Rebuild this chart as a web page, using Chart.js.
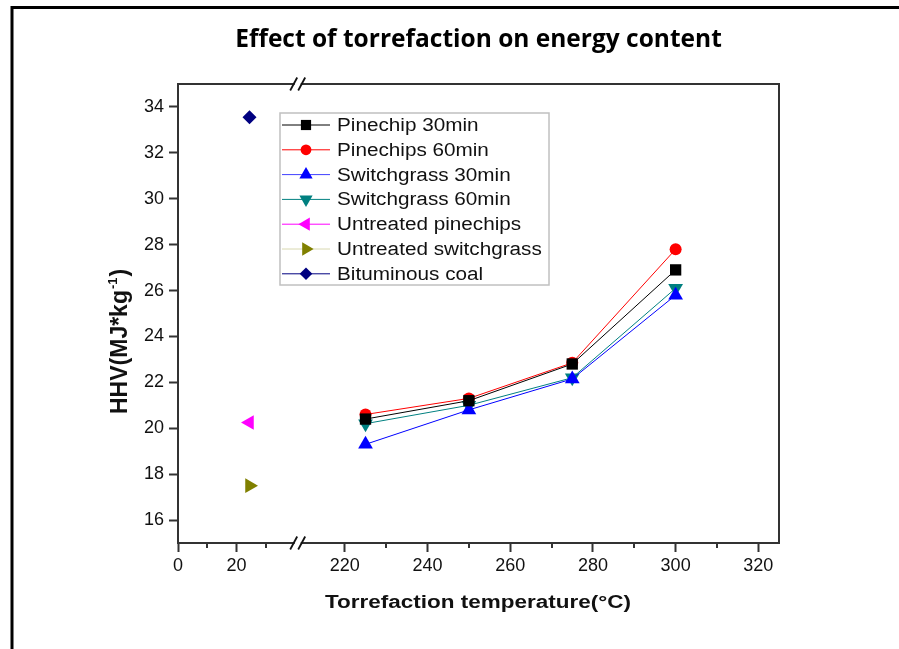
<!DOCTYPE html>
<html>
<head>
<meta charset="utf-8">
<script src="https://cdn.jsdelivr.net/npm/chart.js@4/dist/chart.umd.min.js"></script>
<style>
  html, body { margin: 0; padding: 0; background: #ffffff; }
  #wrap { width: 899px; height: 649px; }
</style>
</head>
<body>
<div id="wrap"><canvas id="c" width="899" height="649"></canvas></div>
<script>
// ---- data ----
const temperatures = [225, 250, 275, 300];
const pinechip30 = [20.4, 21.2, 22.8, 26.9];
const pinechips60 = [20.6, 21.3, 22.85, 27.8];
const switchgrass30 = [19.3, 20.8, 22.15, 25.8];
const switchgrass60 = [20.2, 21.0, 22.2, 26.1];
const untreatedX = [24.5];
const untreatedPinechips = [20.25];
const untreatedSwitchgrass = [17.5];
const bituminousCoal = [33.55];

// ---- tick labels ----
const yTicks = [16, 18, 20, 22, 24, 26, 28, 30, 32, 34];
const xTicksLeft = [0, 20];
const xTicksRight = [220, 240, 260, 280, 300, 320];
const xMinorLeft = [10, 30];
const xMinorRight = [230, 250, 270, 290, 310];

const labels = ['Pinechip 30min', 'Pinechips 60min', 'Switchgrass 30min', 'Switchgrass 60min',
  'Untreated pinechips', 'Untreated switchgrass', 'Bituminous coal'];

function pts(xs, ys) { return ys.map((y, i) => ({ x: xs[i], y: y })); }

const datasets = [
  { label: labels[0], data: pts(temperatures, pinechip30), xAxisID: 'xR', borderColor: '#000000', backgroundColor: '#000000', pointStyle: 'rect', pointRadius: 8, rotation: 0, legendLine: '#000000' },
  { label: labels[1], data: pts(temperatures, pinechips60), xAxisID: 'xR', borderColor: '#ff0000', backgroundColor: '#ff0000', pointStyle: 'circle', pointRadius: 6, rotation: 0, legendLine: '#ff0000' },
  { label: labels[2], data: pts(temperatures, switchgrass30), xAxisID: 'xR', borderColor: '#0000ff', backgroundColor: '#0000ff', pointStyle: 'triangle', pointRadius: 8.5, rotation: 0, legendLine: '#4040ff' },
  { label: labels[3], data: pts(temperatures, switchgrass60), xAxisID: 'xR', borderColor: '#008080', backgroundColor: '#008080', pointStyle: 'triangle', pointRadius: 8.5, rotation: 180, legendLine: '#008080' },
  { label: labels[4], data: pts(untreatedX, untreatedPinechips), xAxisID: 'xL', borderColor: '#ff00ff', backgroundColor: '#ff00ff', pointStyle: 'triangle', pointRadius: 8.5, rotation: -90, legendLine: '#ff00ff', showLine: false },
  { label: labels[5], data: pts(untreatedX, untreatedSwitchgrass), xAxisID: 'xL', borderColor: '#808000', backgroundColor: '#808000', pointStyle: 'triangle', pointRadius: 8.5, rotation: 90, legendLine: '#d8d8b0', showLine: false },
  { label: labels[6], data: pts(untreatedX, bituminousCoal), xAxisID: 'xL', borderColor: '#000080', backgroundColor: '#000080', pointStyle: 'rectRot', pointRadius: 7, rotation: 0, legendLine: '#000080', showLine: false }
].map(d => Object.assign({
  borderWidth: 1,
  pointBorderWidth: 0,
  pointRotation: d.rotation,
  pointHoverRadius: d.pointRadius,
  showLine: d.showLine !== false,
  clip: false
}, d));

function drawMarker(ctx, style, x, y, r, rotDeg, color) {
  ctx.save();
  ctx.fillStyle = color;
  ctx.beginPath();
  if (style === 'circle') {
    ctx.arc(x, y, r, 0, Math.PI * 2);
  } else if (style === 'rect') {
    const s = Math.SQRT1_2 * r;
    ctx.rect(x - s, y - s, 2 * s, 2 * s);
  } else if (style === 'rectRot') {
    ctx.moveTo(x, y - r); ctx.lineTo(x + r, y); ctx.lineTo(x, y + r); ctx.lineTo(x - r, y); ctx.closePath();
  } else if (style === 'triangle') {
    let rad = rotDeg * Math.PI / 180;
    ctx.moveTo(x + Math.sin(rad) * r, y - Math.cos(rad) * r);
    rad += 2 * Math.PI / 3;
    ctx.lineTo(x + Math.sin(rad) * r, y - Math.cos(rad) * r);
    rad += 2 * Math.PI / 3;
    ctx.lineTo(x + Math.sin(rad) * r, y - Math.cos(rad) * r);
    ctx.closePath();
  }
  ctx.fill();
  ctx.restore();
}

const decor = {
  id: 'decor',
  afterDraw(chart) {
    const ctx = chart.ctx;
    const a = chart.chartArea;
    const xL = chart.scales.xL, xR = chart.scales.xR;
    ctx.save();
    // outer page border
    ctx.strokeStyle = '#000000';
    ctx.lineWidth = 3;
    ctx.beginPath();
    ctx.moveTo(12, 649); ctx.lineTo(12, 7.5); ctx.lineTo(899, 7.5);
    ctx.stroke();
    // top and right frame
    ctx.strokeStyle = '#333333';
    ctx.lineWidth = 2;
    ctx.beginPath();
    ctx.moveTo(a.left - 1, a.top); ctx.lineTo(a.right, a.top); ctx.lineTo(a.right, a.bottom + 1);
    ctx.stroke();
    // minor ticks
    ctx.lineWidth = 2;
    [[xL, xMinorLeft], [xR, xMinorRight]].forEach(([sc, vals]) => {
      vals.forEach(v => {
        const px = Math.round(sc.getPixelForValue(v));
        ctx.beginPath(); ctx.moveTo(px, a.bottom); ctx.lineTo(px, a.bottom + 5); ctx.stroke();
      });
    });
    // axis breaks
    const xb = xL.right;
    [a.top, a.bottom].forEach(yy => {
      ctx.fillStyle = '#ffffff';
      ctx.fillRect(xb - 3, yy - 2, 6, 4);
      ctx.strokeStyle = '#111111';
      ctx.lineWidth = 1.8;
      [-4, 4].forEach(off => {
        ctx.beginPath();
        ctx.moveTo(xb + off - 3.5, yy + 6.5);
        ctx.lineTo(xb + off + 3.5, yy - 6.5);
        ctx.stroke();
      });
    });
    // legend
    const lx = 280, ly = 113, lw = 269, lh = 172;
    ctx.fillStyle = '#ffffff';
    ctx.fillRect(lx, ly, lw, lh);
    ctx.strokeStyle = '#c0c0c0';
    ctx.lineWidth = 1.5;
    ctx.strokeRect(lx, ly, lw, lh);
    chart.data.datasets.forEach((ds, i) => {
      const y = 125 + i * 24.8;
      ctx.strokeStyle = ds.legendLine;
      ctx.lineWidth = 1;
      ctx.beginPath(); ctx.moveTo(282, y); ctx.lineTo(330, y); ctx.stroke();
      drawMarker(ctx, ds.pointStyle, 306, y, ds.pointRadius * 0.9, ds.rotation, ds.backgroundColor);
      ctx.save();
      ctx.translate(337, y + 1);
      ctx.scale(1.15, 1);
      ctx.fillStyle = '#111111';
      ctx.font = '18px "Liberation Sans", Arial, sans-serif';
      ctx.textBaseline = 'middle';
      ctx.textAlign = 'left';
      ctx.fillText(ds.label, 0, 0);
      ctx.restore();
    });
    // x axis title
    ctx.save();
    ctx.translate(478, 608);
    ctx.scale(1.25, 1);
    ctx.fillStyle = '#111111';
    ctx.font = 'bold 18px "Liberation Sans", Arial, sans-serif';
    ctx.textAlign = 'center';
    ctx.textBaseline = 'alphabetic';
    ctx.fillText('Torrefaction temperature(°C)', 0, 0);
    ctx.restore();
    // y axis title with superscript
    ctx.save();
    ctx.translate(127, 414);
    ctx.rotate(-Math.PI / 2);
    ctx.fillStyle = '#111111';
    ctx.textAlign = 'left';
    ctx.textBaseline = 'alphabetic';
    ctx.font = 'bold 23px "Liberation Sans", Arial, sans-serif';
    const main = 'HHV(MJ*kg';
    ctx.fillText(main, 0, 0);
    let w = ctx.measureText(main).width;
    ctx.font = 'bold 13px "Liberation Sans", Arial, sans-serif';
    ctx.fillText('-1', w + 1, -10);
    w += ctx.measureText('-1').width + 2;
    ctx.font = 'bold 23px "Liberation Sans", Arial, sans-serif';
    ctx.fillText(')', w, 0);
    ctx.restore();
    ctx.restore();
  }
};

const tickFont = { family: '"Liberation Sans", Arial, sans-serif', size: 18 };
function xAxis(min, max, tickVals, weight) {
  return {
    type: 'linear', position: 'bottom', stack: 'x', stackWeight: weight,
    min: min, max: max,
    afterBuildTicks: s => { s.ticks = tickVals.map(v => ({ value: v })); },
    afterFit: s => { s.height = 106; },
    ticks: { font: tickFont, color: '#111111', padding: 3, maxRotation: 0, autoSkip: false },
    grid: { drawOnChartArea: false, drawTicks: true, tickLength: 9, tickWidth: 2, tickColor: '#333333' },
    border: { display: true, color: '#333333', width: 2 }
  };
}

new Chart(document.getElementById('c'), {
  type: 'scatter',
  data: { datasets: datasets },
  options: {
    responsive: false,
    animation: false,
    events: [],
    layout: { padding: { left: 0, right: 120, top: 0, bottom: 0 } },
    plugins: {
      legend: { display: false },
      tooltip: { enabled: false },
      title: {
        display: true, fullSize: false,
        text: 'Effect of torrefaction on energy content',
        color: '#000000',
        font: { family: '"Open Sans", sans-serif', size: 24.5, weight: 'bold', lineHeight: 1.2 },
        padding: { top: 25, bottom: 29.6 }
      }
    },
    scales: {
      xL: xAxis(0, 41, xTicksLeft, 119.7),
      xR: xAxis(208.6, 325, xTicksRight, 481.3),
      y: {
        type: 'linear', position: 'left', min: 15, max: 35,
        afterBuildTicks: s => { s.ticks = yTicks.map(v => ({ value: v })); },
        afterFit: s => { s.width = 178; },
        ticks: { font: tickFont, color: '#111111', padding: 5 },
        grid: { drawOnChartArea: false, drawTicks: true, tickLength: 9, tickWidth: 2, tickColor: '#333333' },
        border: { display: true, color: '#333333', width: 2 }
      }
    }
  },
  plugins: [decor]
});
</script>
</body>
</html>
